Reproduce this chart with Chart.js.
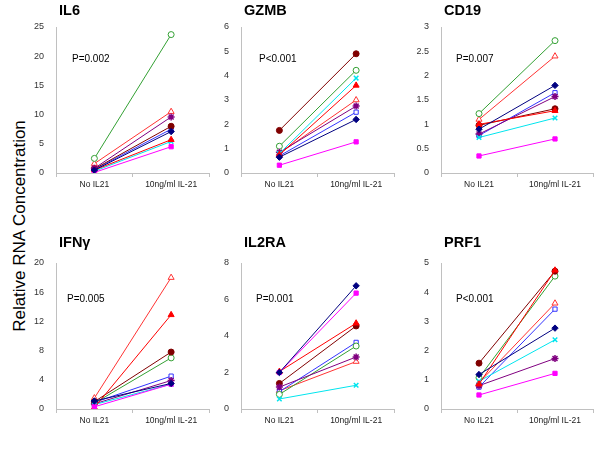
<!DOCTYPE html>
<html>
<head>
<meta charset="utf-8">
<script src="https://cdn.jsdelivr.net/npm/chart.js@4.4.0/dist/chart.umd.min.js"></script>
<style>
  body { margin: 0; background: #fff; }
  #wrap { position: relative; width: 600px; height: 450px; overflow: hidden; }
  #wrap canvas { position: absolute; }
  #ytitle {
    position: absolute; left: -90px; top: 216px; width: 220px; height: 20px; line-height: 20px;
    text-align: center; transform: rotate(-90deg);
    font: 17px "Liberation Sans", Arial, sans-serif; color: #000;
  }
</style>
</head>
<body>
<div id="wrap">
  <div id="ytitle">Relative RNA Concentration</div>
  <canvas id="cIL6" width="205" height="225"></canvas>
  <canvas id="cGZMB" width="195" height="225"></canvas>
  <canvas id="cCD19" width="195" height="225"></canvas>
  <canvas id="cIFNG" width="205" height="225"></canvas>
  <canvas id="cIL2RA" width="195" height="225"></canvas>
  <canvas id="cPRF1" width="195" height="225"></canvas>
</div>
<script>
// Datos: dos condiciones, nueve sujetos
const categories = ["No IL21", "10ng/ml IL-21"];
const subjects = ["S1", "S2", "S3", "S4", "S5", "S6", "S7", "S8", "S9"];

// orden: navy, magenta, rojo lleno, cian, morado, granate, verde, azul, rojo abierto
const il6Before = [0.5, 0.1, 0.5, 0.3, 0.8, 0.7, 2.5, 0.6, 1.6];
const il6After = [7.1, 4.5, 5.7, 5.4, 9.6, 8.0, 23.7, 7.5, 10.5];

const gzmbBefore = [0.65, 0.32, 0.75, 0.8, 0.85, 1.75, 1.1, 0.7, 0.8];
const gzmbAfter = [2.2, 1.28, 3.6, 3.9, 2.75, 4.9, 4.22, 2.5, 3.0];

const cd19Before = [0.9, 0.35, 1.0, 0.73, 0.8, 0.98, 1.22, 0.77, 1.1];
const cd19After = [1.8, 0.7, 1.28, 1.13, 1.57, 1.32, 2.72, 1.65, 2.4];

const ifngBefore = [1.1, 0.3, 0.2, 0.6, 0.7, 1.0, 0.8, 0.9, 1.5];
const ifngAfter = [3.5, 3.4, 12.9, 3.4, 3.9, 7.8, 7.0, 4.5, 18.0];

const il2raBefore = [2.0, 2.0, 2.05, 0.55, 1.2, 1.4, 0.8, 0.95, 1.0];
const il2raAfter = [6.75, 6.35, 4.7, 1.3, 2.85, 4.55, 3.45, 3.65, 2.6];

const prf1Before = [1.18, 0.48, 0.85, 0.95, 0.8, 1.57, 1.07, 0.75, 0.9];
const prf1After = [2.77, 1.22, 4.75, 2.37, 1.73, 4.72, 4.55, 3.42, 3.62];

// Estilos por sujeto
const lineColors = ["#000080", "#FF00FF", "#FF0000", "#00E5EE", "#800080", "#800000", "#33A033", "#3333FF", "#FF3333"];
const markers = ["rectRot", "rect", "triangle", "crossRot", "star", "circle", "circle", "rect", "triangle"];
const filled = [true, true, true, true, true, true, false, false, false];
const radii = [3.2, 3, 3.5, 3.2, 3.5, 3, 3, 3, 3.5];

const FONT = '"Liberation Sans", Arial, sans-serif';

// Plugin para el título del panel y el valor P
const panelText = {
  id: "panelText",
  afterDraw(chart, args, opts) {
    const ctx = chart.ctx;
    const a = chart.chartArea;
    ctx.save();
    ctx.fillStyle = "#000";
    ctx.textBaseline = "alphabetic";
    ctx.textAlign = "left";
    ctx.font = "bold 14.5px " + FONT;
    ctx.fillText(opts.title, a.left + 3, opts.titleY);
    ctx.font = "10px " + FONT;
    ctx.fillText(opts.p, a.left + opts.pX, opts.pY);
    ctx.restore();
  }
};

// Posiciones de las columnas y filas
const cols = [
  { left: 10, width: 205, padL: 16, padR: 5 },
  { left: 205, width: 195, padL: 6, padR: 5 },
  { left: 405, width: 195, padL: 6, padR: 7 }
];
const rows = [
  { top: 0, padT: 27, padB: 28, titleY: 15, pY: 62 },
  { top: 225, padT: 38, padB: 17, titleY: 22, pY: 77 }
];

function makePanel(id, title, p, before, after, max, step, col, row, pX) {
  const canvas = document.getElementById(id);
  const c = cols[col], r = rows[row];
  canvas.style.left = c.left + "px";
  canvas.style.top = r.top + "px";

  const datasets = subjects.map((s, i) => ({
    label: s,
    data: [before[i], after[i]],
    borderColor: lineColors[i],
    backgroundColor: filled[i] ? lineColors[i] : "#fff",
    pointBackgroundColor: filled[i] ? lineColors[i] : "#fff",
    pointBorderColor: lineColors[i],
    pointStyle: markers[i],
    pointRadius: radii[i],
    pointBorderWidth: markers[i] === "crossRot" || markers[i] === "star" ? 1.5 : 1,
    borderWidth: 1,
    tension: 0
  }));

  return new Chart(canvas.getContext("2d"), {
    type: "line",
    data: { labels: categories, datasets: datasets },
    plugins: [panelText],
    options: {
      responsive: false,
      animation: false,
      layout: { padding: { left: c.padL, right: c.padR, top: r.padT, bottom: r.padB } },
      plugins: {
        legend: { display: false },
        tooltip: { enabled: false },
        panelText: { title: title, p: p, titleY: r.titleY, pY: r.pY, pX: pX }
      },
      scales: {
        x: {
          offset: true,
          afterFit: s => { s.height = 24; },
          grid: { display: true, drawOnChartArea: false, drawTicks: true, tickLength: 4, color: "#c0c0c0", offset: true },
          border: { display: true, color: "#c0c0c0", width: 1 },
          ticks: { color: "#222", font: { family: FONT, size: 8.5 }, padding: 3, maxRotation: 0 }
        },
        y: {
          min: 0,
          max: max,
          afterFit: s => { s.width = 30; },
          grid: { display: false },
          border: { display: true, color: "#c0c0c0", width: 1 },
          ticks: {
            stepSize: step,
            color: "#333",
            padding: 4,
            font: { family: FONT, size: 9 },
            callback: v => String(v)
          }
        }
      }
    }
  });
}

makePanel("cIL6", "IL6", "P=0.002", il6Before, il6After, 25, 5, 0, 0, 16);
makePanel("cGZMB", "GZMB", "P<0.001", gzmbBefore, gzmbAfter, 6, 1, 1, 0, 18);
makePanel("cCD19", "CD19", "P=0.007", cd19Before, cd19After, 3, 0.5, 2, 0, 15);
makePanel("cIFNG", "IFNγ", "P=0.005", ifngBefore, ifngAfter, 20, 4, 0, 1, 11);
makePanel("cIL2RA", "IL2RA", "P=0.001", il2raBefore, il2raAfter, 8, 2, 1, 1, 15);
makePanel("cPRF1", "PRF1", "P<0.001", prf1Before, prf1After, 5, 1, 2, 1, 15);
</script>
</body>
</html>
